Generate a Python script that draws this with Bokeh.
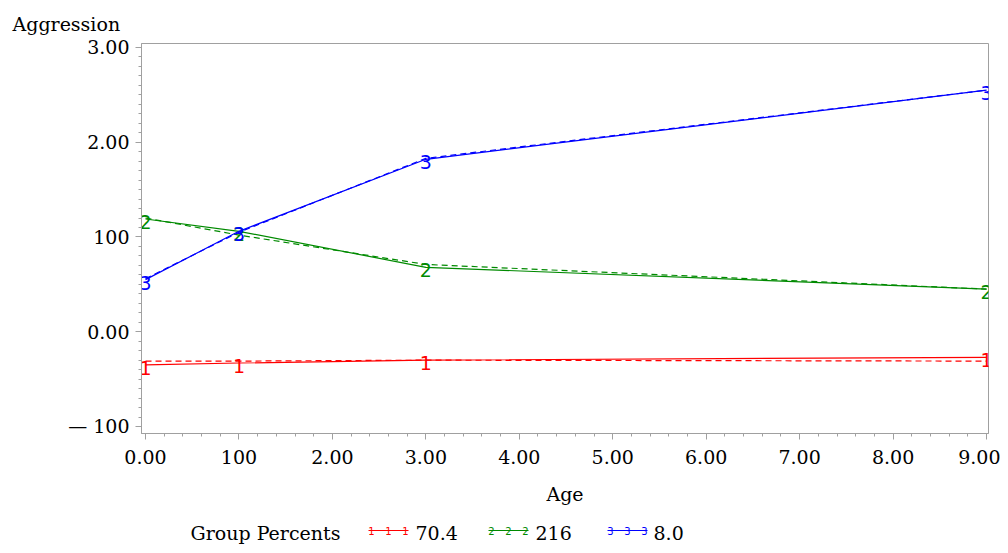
from bokeh.plotting import figure
from bokeh.models import Range1d, FixedTicker, ColumnDataSource
from bokeh.layouts import column
from bokeh.core.properties import value
from bokeh.embed import file_html
from bokeh.resources import INLINE

# ---- data ----
ages = [0, 1, 3, 9]
obs1 = [-0.35, -0.33, -0.30, -0.27]
est1 = [-0.31, -0.31, -0.30, -0.31]
obs2 = [1.19, 1.06, 0.68, 0.45]
est2 = [1.20, 1.02, 0.71, 0.45]
obs3 = [0.55, 1.06, 1.82, 2.55]
est3 = [0.56, 1.05, 1.83, 2.55]
group_ids = ["1", "2", "3"]
group_pcts = ["70.4", "216", "8.0"]
colors = ["#ff0000", "#008a00", "#0000ff"]

x_ticks = [0, 1, 2, 3, 4, 5, 6, 7, 8, 9]
x_tick_labels = ["0.00", "100", "2.00", "3.00", "4.00", "5.00", "6.00", "7.00", "8.00", "9.00"]
y_ticks = [-1, 0, 1, 2, 3]
y_tick_labels = ["\u2014 100", "0.00", "100", "2.00", "3.00"]

SERIF = "DejaVu Serif"
GRAY = "#a0a0a0"
LEFT, RIGHT = 141, 12
W = 1000

p = figure(width=W, height=508, output_backend="svg", toolbar_location=None,
           x_range=Range1d(-0.043, 9.021), y_range=Range1d(-1.074, 3.042),
           min_border_left=LEFT, min_border_right=RIGHT, min_border_top=43, min_border_bottom=75)
p.grid.visible = False
p.outline_line_color = GRAY
p.background_fill_color = "white"
p.border_fill_color = "white"

p.title.text = "Aggression"
p.title.align = "left"
p.title.offset = -129
p.title.text_font = SERIF
p.title.text_font_size = "19px"
p.title.text_font_style = "normal"
p.title.text_color = "black"
p.title.standoff = 17

x_minor = [i / 5 for i in range(0, 46)]
y_minor = [-1 + i / 10 for i in range(0, 41)]
p.xaxis.ticker = FixedTicker(ticks=x_ticks, minor_ticks=x_minor)
p.yaxis.ticker = FixedTicker(ticks=y_ticks, minor_ticks=y_minor)
p.xaxis.major_label_overrides = {t: l for t, l in zip(x_ticks, x_tick_labels)}
p.yaxis.major_label_overrides = {t: l for t, l in zip(y_ticks, y_tick_labels)}

for ax in (p.xaxis[0], p.yaxis[0]):
    ax.axis_line_color = GRAY
    ax.major_tick_line_color = GRAY
    ax.minor_tick_line_color = GRAY
    ax.major_tick_in = 0
    ax.minor_tick_in = 0
    ax.major_tick_out = 6
    ax.minor_tick_out = 3
    ax.major_label_text_font = SERIF
    ax.major_label_text_font_size = "19px"
    ax.major_label_text_color = "black"
    ax.axis_label_text_font = SERIF
    ax.axis_label_text_font_size = "19px"
    ax.axis_label_text_font_style = "normal"
    ax.axis_label_text_color = "black"

p.xaxis.axis_label = "Age"
p.xaxis.major_label_standoff = 10
p.xaxis.axis_label_standoff = 16
p.yaxis.major_label_standoff = 6

obs = [obs1, obs2, obs3]
est = [est1, est2, est3]
for o, e, c, g in zip(obs, est, colors, group_ids):
    p.line(ages, o, line_color=c, line_width=1.2)
    p.line(ages, e, line_color=c, line_width=1.2, line_dash="6 4")
    src = ColumnDataSource(dict(x=ages, y=o, t=[g] * len(ages)))
    p.text(x="x", y="y", text="t", source=src, text_color=c,
           text_font=value("DejaVu Sans"), text_font_size="19px",
           text_align="center", text_baseline="middle", y_offset=3)

# ---- legend strip (x in page pixels, frame aligned with main plot) ----
leg = figure(width=W, height=40, output_backend="svg", toolbar_location=None,
             x_range=Range1d(LEFT, W - RIGHT), y_range=Range1d(0, 40),
             min_border_left=LEFT, min_border_right=RIGHT, min_border_top=0, min_border_bottom=0,
             x_axis_location=None, y_axis_location=None)
leg.grid.visible = False
leg.outline_line_color = None

ty = 16
leg.text(x=[190], y=[ty], text=["Group Percents"], text_font=value(SERIF),
         text_font_size="19px", text_align="left", text_baseline="middle", text_color="black")
sample_x0 = [368, 488, 607]
label_x = [415, 535, 653]
for x0, lx, c, g, pct in zip(sample_x0, label_x, colors, group_ids, group_pcts):
    leg.line([x0, x0 + 40], [ty + 2, ty + 2], line_color=c, line_width=1.2)
    leg.text(x=[x0 + 3, x0 + 20, x0 + 37], y=[ty + 2] * 3, text=[g] * 3, text_color=c,
             text_font=value("DejaVu Sans"), text_font_size="10px",
             text_align="center", text_baseline="middle")
    leg.text(x=[lx], y=[ty], text=[pct], text_font=value(SERIF), text_font_size="19px",
             text_align="left", text_baseline="middle", text_color="black")

layout = column(p, leg, spacing=0)
open("out.html", "w").write(file_html(layout, INLINE))
